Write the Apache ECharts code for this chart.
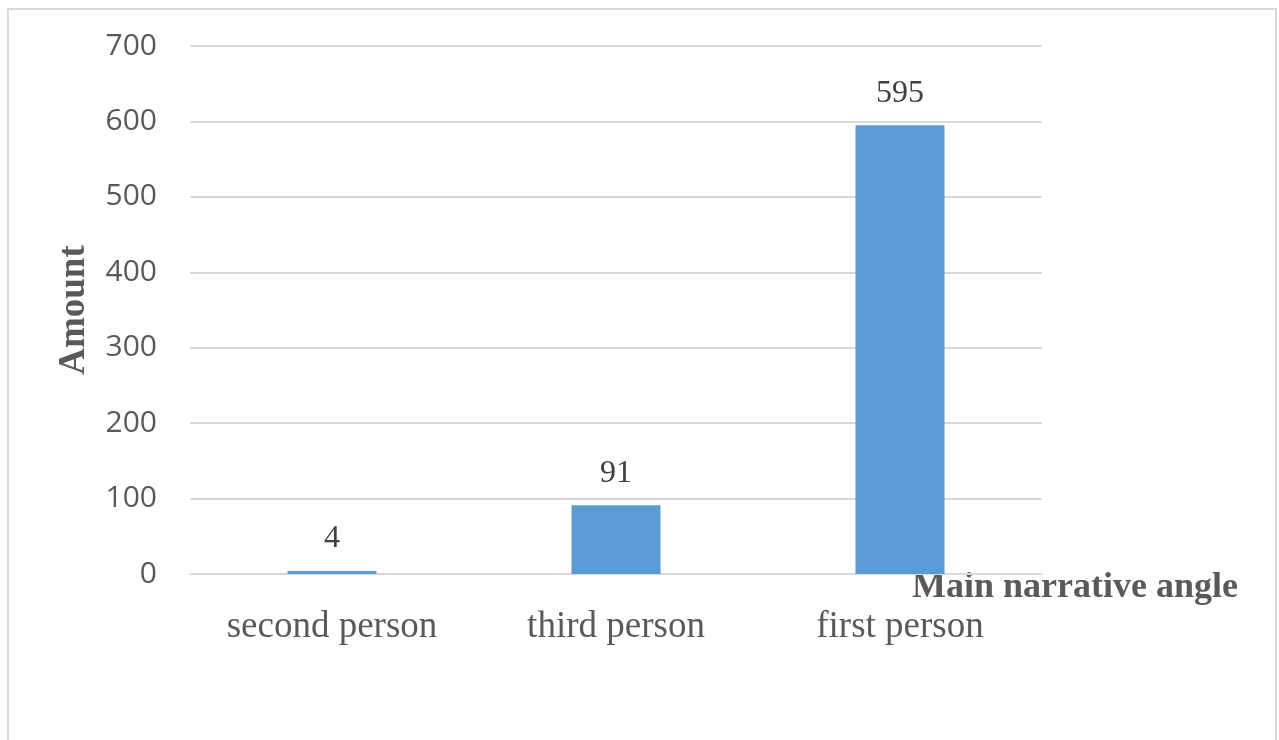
<!DOCTYPE html>
<html>
<head>
<meta charset="utf-8">
<script src="https://cdn.jsdelivr.net/npm/echarts@6/dist/echarts.min.js"></script>
<style>
  html, body { margin: 0; padding: 0; background: #fff; }
  #frame { position: absolute; left: 7px; top: 8px; width: 1270px; height: 740px; border: 2px solid #d9d9d9; box-sizing: border-box; }
  #chart { position: absolute; left: 0; top: 0; width: 1279px; height: 740px; }
</style>
</head>
<body>
<div id="frame"></div>
<div id="chart"></div>
<script>
// Narrative angle counts
const categories = ['second person', 'third person', 'first person'];
const amounts = [4, 91, 595];
const yTicks = [0, 100, 200, 300, 400, 500, 600, 700];

const serif = '"Liberation Serif", "DejaVu Serif", serif';
const chart = echarts.init(document.getElementById('chart'));
chart.setOption({
  animation: false,
  grid: { left: 190, right: 237, top: 46, bottom: 166, containLabel: false, outerBoundsMode: 'none' },
  xAxis: {
    type: 'category',
    data: categories,
    name: 'Main narrative angle',
    nameLocation: 'end',
    nameGap: -130,
    nameMoveOverlap: false,
    nameTextStyle: {
      fontFamily: serif, fontWeight: 'bold', fontSize: 36, color: '#595959',
      verticalAlign: 'top', lineHeight: 28
    },
    axisLine: { lineStyle: { color: '#d9d9d9', width: 2 } },
    axisTick: { show: false },
    axisLabel: { fontFamily: serif, fontSize: 37, color: '#595959', margin: 35 }
  },
  yAxis: {
    type: 'value',
    min: yTicks[0],
    max: yTicks[yTicks.length - 1],
    interval: 100,
    name: 'Amount',
    nameLocation: 'middle',
    nameGap: 97,
    nameRotate: 90,
    nameTextStyle: { fontFamily: serif, fontWeight: 'bold', fontSize: 37, color: '#595959' },
    axisLine: { show: false },
    axisTick: { show: false },
    axisLabel: { fontFamily: '"Open Sans", sans-serif', fontSize: 30, color: '#595959', margin: 33 },
    splitLine: { lineStyle: { color: '#d9d9d9', width: 2 } }
  },
  series: [{
    type: 'bar',
    data: amounts,
    barWidth: 89,
    itemStyle: { color: '#5b9bd5' },
    label: {
      show: true, position: 'top', distance: 16,
      fontFamily: serif, fontSize: 32, color: '#404040'
    }
  }]
});
</script>
</body>
</html>
